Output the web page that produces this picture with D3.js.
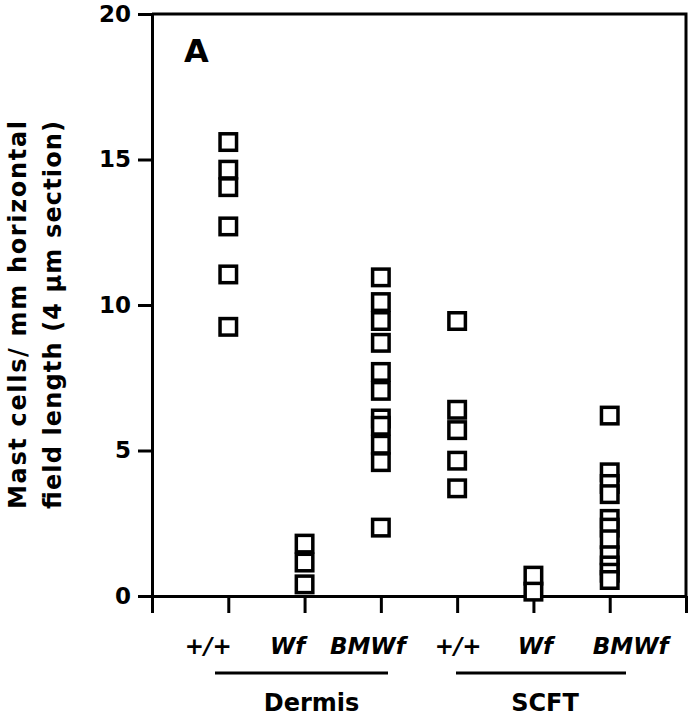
<!DOCTYPE html>
<html>
<head>
<meta charset="utf-8">
<script src="https://cdn.jsdelivr.net/npm/d3@7/dist/d3.min.js"></script>
<style>
  body { margin: 0; background: #fff; }
  text { font-family: 'DejaVu Sans', sans-serif; font-weight: bold; fill: #000; }
</style>
</head>
<body>
<svg id="chart" width="690" height="719"></svg>
<script>
// values (mast cells / mm)
var dermis_wt   = [15.6, 14.65, 14.05, 12.7, 11.05, 9.25];
var dermis_wf   = [1.8, 1.15, 0.4];
var dermis_bmwf = [10.95, 10.1, 9.45, 8.7, 7.7, 7.05, 6.1, 5.85, 5.2, 4.6, 2.35];
var scft_wt     = [9.45, 6.4, 5.7, 4.65, 3.7];
var scft_wf     = [0.7, 0.15];
var scft_bmwf   = [6.2, 4.25, 3.85, 3.5, 2.65, 2.35, 1.95, 1.4, 1.05, 0.8, 0.55];

var genotypes = ['+/+', 'Wf', 'BMWf', '+/+', 'Wf', 'BMWf'];
var tissues = ['Dermis', 'SCFT'];
var yTicks = [0, 5, 10, 15, 20];

var columns = [dermis_wt, dermis_wf, dermis_bmwf, scft_wt, scft_wf, scft_bmwf];

var labelShift = [-20, -17, -13, 1, 2, 21],
    boxSize = 16.5,
    axisWidth = 3;

var svg = d3.select("#chart");

var x = d3.scaleLinear().domain([0, 7]).range([152, 686]);
var y = d3.scaleLinear().domain([0, 20]).range([596, 14]);

// frame top + right
svg.append("path")
    .attr("d", "M" + x(0) + "," + y(20) + "H" + x(7) + "V" + y(0))
    .attr("fill", "none")
    .attr("stroke", "#000")
    .attr("stroke-width", axisWidth);

var yAxis = svg.append("g")
    .attr("transform", "translate(" + x(0) + ",0)")
    .call(d3.axisLeft(y).tickValues(yTicks).tickSize(14).tickSizeOuter(0).tickPadding(7));

var xAxis = svg.append("g")
    .attr("transform", "translate(0," + y(0) + ")")
    .call(d3.axisBottom(x).tickValues(d3.range(0, 8)).tickSize(17).tickSizeOuter(0).tickFormat(""));

[yAxis, xAxis].forEach(function(ax){
    ax.selectAll("path, line").attr("stroke", "#000").attr("stroke-width", axisWidth);
});
yAxis.selectAll("text")
    .style("font-size", "23px")
    .style("font-family", "'DejaVu Sans', sans-serif")
    .style("font-weight", "bold")
    .attr("fill", "#000");

// data squares
columns.forEach(function(vals, i){
    svg.append("g").selectAll("rect")
        .data(vals)
        .enter()
        .append("rect")
        .attr("x", x(i + 1) - boxSize / 2)
        .attr("y", function(d){ return y(d) - boxSize / 2; })
        .attr("width", boxSize)
        .attr("height", boxSize)
        .attr("fill", "#fff")
        .attr("stroke", "#000")
        .attr("stroke-width", 3.5);
});

// genotype labels
svg.append("g").selectAll("text")
    .data(genotypes)
    .enter()
    .append("text")
    .attr("x", function(d, i){ return x(i + 1) + labelShift[i]; })
    .attr("y", 654)
    .attr("text-anchor", "middle")
    .style("font-size", "23px")
    .style("font-style", "italic")
    .text(function(d){ return d; });

// tissue group bars + names
var groupSpan = [[215, 388], [456, 626]];
tissues.forEach(function(t, i){
    svg.append("line")
        .attr("x1", groupSpan[i][0]).attr("x2", groupSpan[i][1])
        .attr("y1", 673).attr("y2", 673)
        .attr("stroke", "#000")
        .attr("stroke-width", 3);
    svg.append("text")
        .attr("x", (groupSpan[i][0] + groupSpan[i][1]) / 2 + (i ? 4 : 10))
        .attr("y", 711)
        .attr("text-anchor", "middle")
        .style("font-size", "24px")
        .text(t);
});

// y title, two lines
var title = ["Mast cells/ mm horizontal", "field length (4 \u03bcm section)"];
title.forEach(function(t, i){
    svg.append("text")
        .attr("transform", "translate(" + (26 + i * 35) + ",315) rotate(-90)")
        .attr("text-anchor", "middle")
        .attr("textLength", 388)
        .attr("lengthAdjust", "spacing")
        .style("font-size", "24px")
        .text(t);
});

// panel letter
svg.append("text")
    .attr("x", 184)
    .attr("y", 62)
    .style("font-size", "32px")
    .text("A");
</script>
</body>
</html>
